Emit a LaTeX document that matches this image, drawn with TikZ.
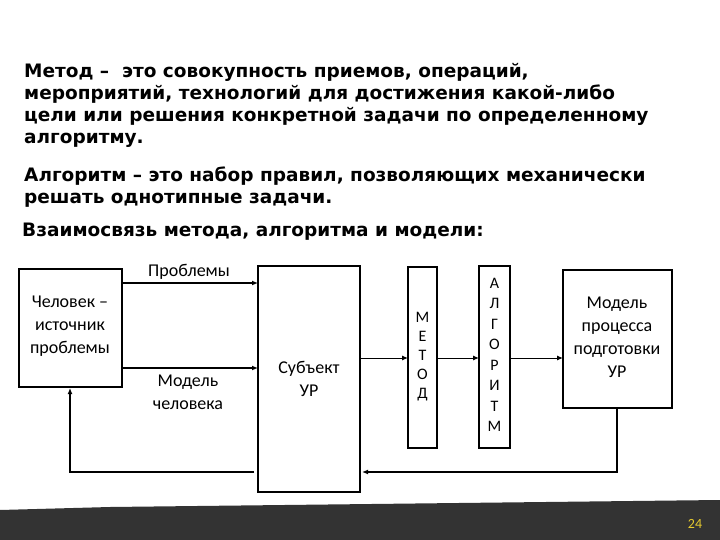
\documentclass[tikz,border=0pt]{standalone}
\usepackage{fontspec}
\setmainfont{DejaVu Sans}
\newfontfamily\calib{Carlito}
\usetikzlibrary{arrows.meta}
\begin{document}
\begin{tikzpicture}[x=1pt,y=-1pt,
  box/.style={draw,line width=1.6pt,inner sep=0},
  lbl/.style={font=\calib\fontsize{18}{23}\selectfont,align=center},
  ar/.style={-{Latex[length=6pt,width=5pt]},line width=1pt},
  arb/.style={-{Latex[length=6pt,width=5pt]},line width=1.8pt},
  head/.style={font=\bfseries\fontsize{18.5}{22}\selectfont,align=left,anchor=north west,inner sep=0}]
\useasboundingbox (0,0) rectangle (720,540);
\fill[white] (0,0) rectangle (720,540);
\fill[black!80] (0,510) -- (110,507) -- (720,500) -- (720,540) -- (0,540) -- cycle;
\node[text=yellow!60!brown,font=\calib\fontsize{14}{14}\selectfont] (pg) at (695,524) {24};
\node[head] (t1) at (24,63) {Метод –\ \ это совокупность приемов, операций,\\мероприятий, технологий для достижения какой-либо\\цели или решения конкретной задачи по определенному\\алгоритму.};
\node[head] (t2) at (24,167) {Алгоритм – это набор правил, позволяющих механически\\решать однотипные задачи.};
\node[head] (t3) at (22,223) {Взаимосвязь метода, алгоритма и модели:};
\draw[box] (19,269) rectangle (122,387);
\node[lbl] (ch) at (70,326) {Человек –\\источник\\проблемы};
\draw[box] (258,266) rectangle (360,492);
\node[lbl] (sub) at (309,379) {Субъект\\УР};
\draw[box] (408,267) rectangle (437,448);
\node[lbl,font=\calib\fontsize{16}{19}\selectfont] (met) at (422.5,357) {М\\Е\\Т\\О\\Д};
\draw[box] (479,266) rectangle (510,448);
\node[lbl,font=\calib\fontsize{16}{20.5}\selectfont] (alg) at (494.5,355) {А\\Л\\Г\\О\\Р\\И\\Т\\М};
\draw[box] (563,270) rectangle (672,408);
\node[lbl] (mod) at (617,337) {Модель\\процесса\\подготовки\\УР};
\coordinate (a1) at (122,283); \coordinate (a2) at (258,283);
\draw[arb] (a1) -- (a2);
\node[lbl] (pr) at (189,272) {Проблемы};
\coordinate (b1) at (122,368); \coordinate (b2) at (258,368);
\draw[arb] (b1) -- (b2);
\node[lbl] (mc) at (188,392) {Модель\\человека};
\coordinate (c1) at (360,358); \coordinate (c2) at (408,358);
\coordinate (c3) at (437,358); \coordinate (c4) at (479,358);
\coordinate (c5) at (510,358); \coordinate (c6) at (563,358);
\draw[ar] (c1) -- (c2); \draw[ar] (c3) -- (c4); \draw[ar] (c5) -- (c6);
\coordinate (f1) at (617,408); \coordinate (f2) at (362,472);
\draw[arb] (f1) |- (f2);
\coordinate (g1) at (254,472); \coordinate (g2) at (70,388);
\draw[arb] (g1) -| (g2);
\end{tikzpicture}
\end{document}
